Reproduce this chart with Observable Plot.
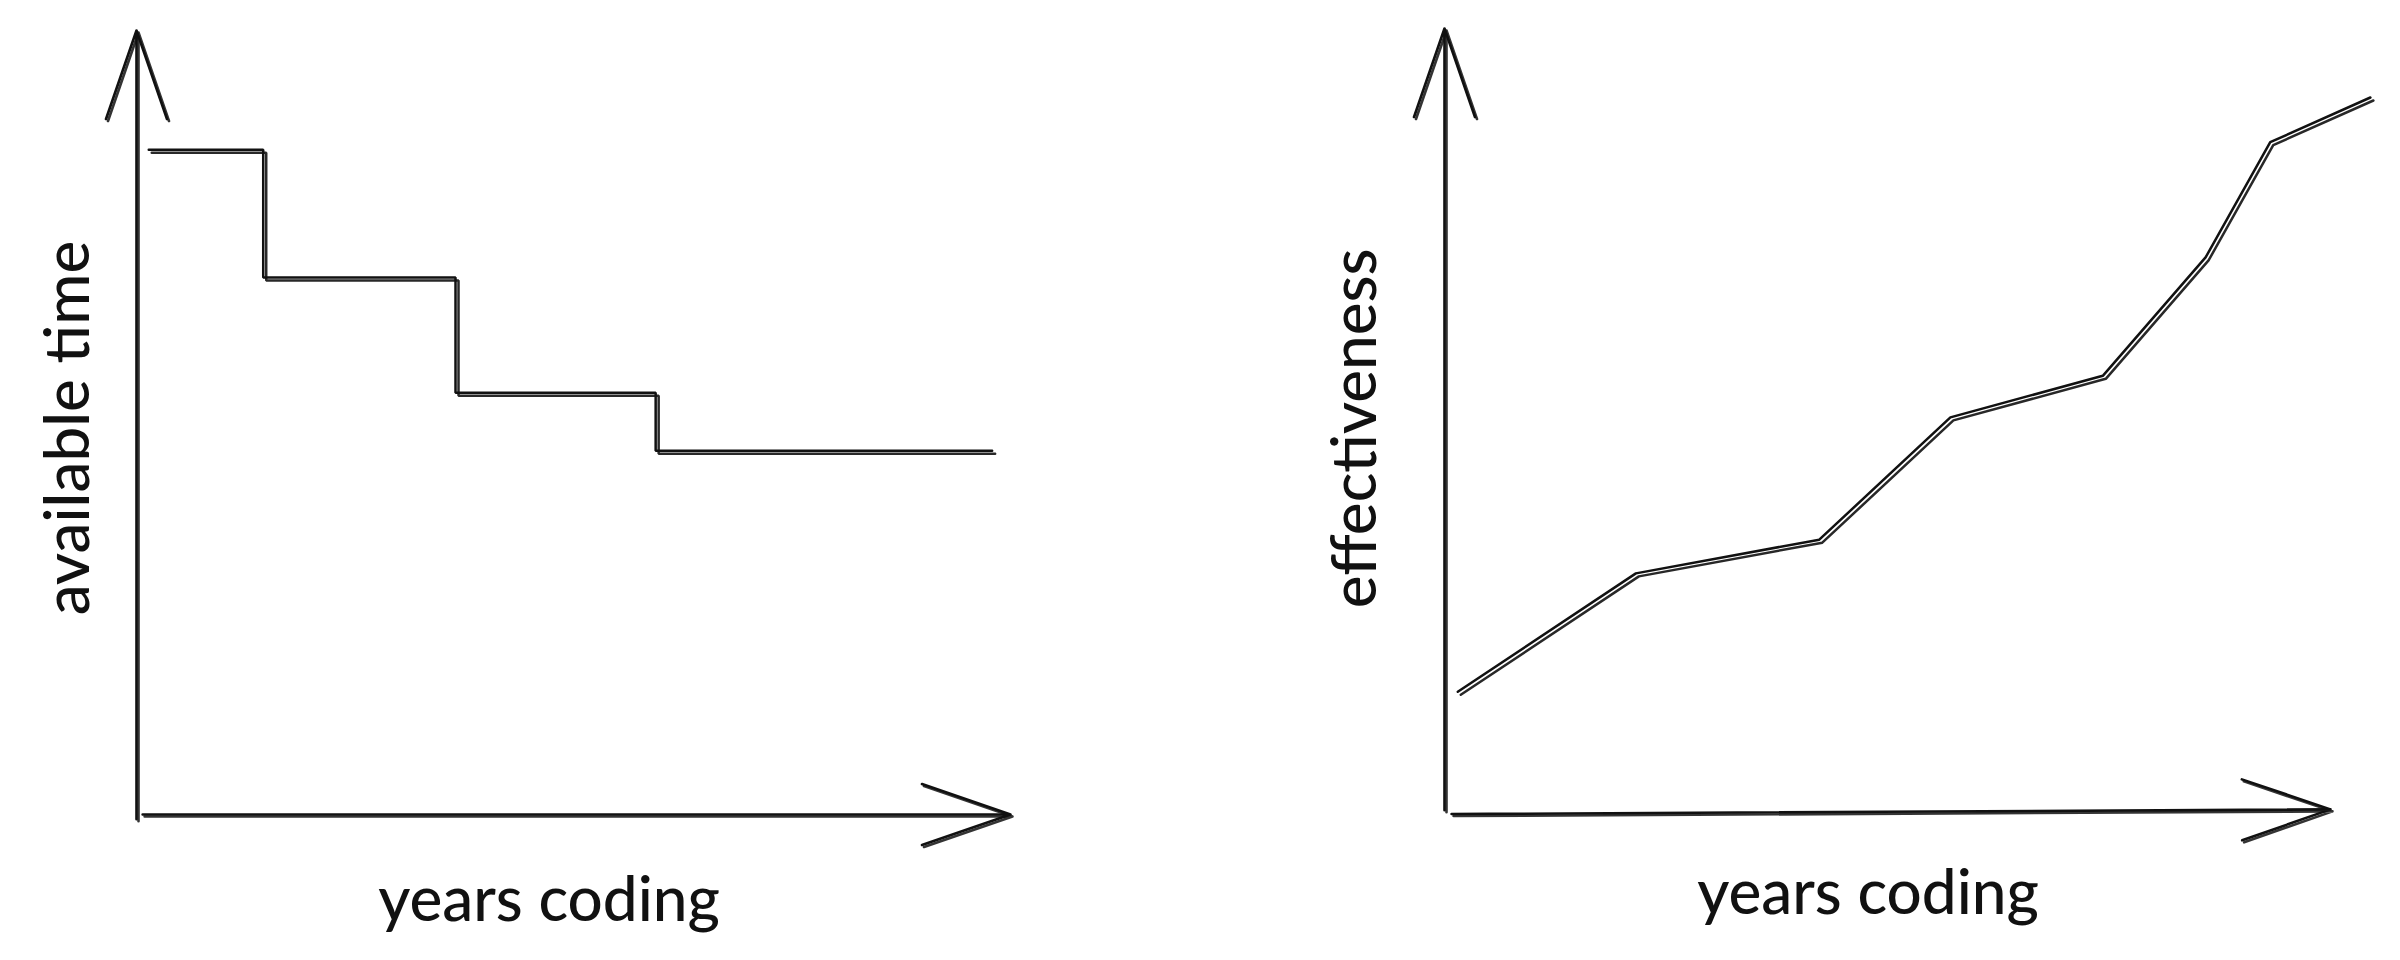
<!DOCTYPE html>
<html>
<head>
<meta charset="utf-8">
<script src="https://cdn.jsdelivr.net/npm/d3@7"></script>
<script src="https://cdn.jsdelivr.net/npm/@observablehq/plot@0.6"></script>
<style>
  html, body { margin: 0; padding: 0; background: #ffffff; }
  #wrap { display: flex; width: 2400px; height: 960px; }
</style>
</head>
<body>
<div id="wrap"></div>
<script>
// ---- Left sketch: available time vs years coding (step line) ----
const timeYears = [0.14, 1.45, 3.65, 5.94, 9.79];
const availableTime = [8.48, 6.85, 5.38, 4.64, 4.64];

// ---- Right sketch: effectiveness vs years coding ----
const effYears = [0.15, 2.16, 4.23, 5.71, 7.43, 8.59, 9.32, 10.45];
const effectiveness = [1.54, 3.05, 3.48, 5.04, 5.57, 7.08, 8.55, 9.12];

// axis labels
const xLabel = "years coding";
const leftYLabel = "available time";
const rightYLabel = "effectiveness";

const INK = "#111111";
const FONT = "Lato, 'Noto Sans', sans-serif";

function sketchMarks(lineData, curve, axisX, axisY, labels) {
  const line = (dx, dy, op) => Plot.line(lineData, {
    x: "x", y: "y", curve, stroke: INK, strokeWidth: 2.5,
    strokeLinejoin: "miter", strokeLinecap: "round", dx, dy, strokeOpacity: op
  });
  const arrow = (d, dx, dy, op) => Plot.arrow(d, {
    x1: "x1", y1: "y1", x2: "x2", y2: "y2",
    stroke: INK, strokeWidth: 2.6, headLength: 54, headAngle: 38,
    dx, dy, strokeOpacity: op
  });
  return [
    arrow([axisX, axisY], 0, 0, 1),
    arrow([axisX, axisY], 2, 2, 0.85),
    line(0, 0, 1),
    line(3, 3, 0.9),
    Plot.text(labels, {
      x: "x", y: "y", text: "text", rotate: "rotate",
      fontSize: 62, fontWeight: 500, fontFamily: FONT, fill: INK,
      textAnchor: "middle", lineAnchor: "middle"
    })
  ];
}

const leftLine = timeYears.map((x, i) => ({x, y: availableTime[i]}));
const rightLine = effYears.map((x, i) => ({x, y: effectiveness[i]}));

const left = Plot.plot({
  width: 1200, height: 960,
  x: {domain: [0, 10], range: [136, 1010], axis: null},
  y: {domain: [0, 10], range: [814, 30], axis: null},
  style: {background: "white", overflow: "visible"},
  marks: sketchMarks(
    leftLine, "step-after",
    {x1: 0.07, y1: 0, x2: 10, y2: 0},
    {x1: 0, y1: -0.06, x2: 0, y2: 10},
    [
      {x: 4.72, y: -1.1, text: xLabel, rotate: 0},
      {x: -0.77, y: 4.93, text: leftYLabel, rotate: -90}
    ]
  )
});

const right = Plot.plot({
  width: 1200, height: 960,
  x: {domain: [0, 10], range: [244, 1130], axis: null},
  y: {domain: [0, 10], range: [812, 28], axis: null},
  style: {background: "white", overflow: "visible"},
  marks: sketchMarks(
    rightLine, "linear",
    {x1: 0.08, y1: -0.02, x2: 10, y2: 0.04},
    {x1: 0, y1: 0.03, x2: 0, y2: 10},
    [
      {x: 4.78, y: -1.04, text: xLabel, rotate: 0},
      {x: -1.0, y: 4.9, text: rightYLabel, rotate: -90}
    ]
  )
});

document.getElementById("wrap").append(left, right);
</script>
</body>
</html>
